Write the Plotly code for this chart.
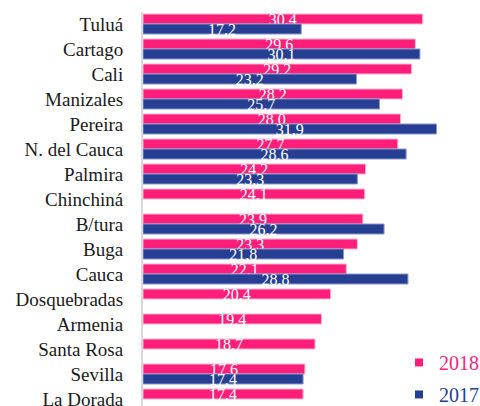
import plotly.graph_objects as go

categories = ["Tuluá", "Cartago", "Cali", "Manizales", "Pereira", "N. del Cauca",
              "Palmira", "Chinchiná", "B/tura", "Buga", "Cauca", "Dosquebradas",
              "Armenia", "Santa Rosa", "Sevilla", "La Dorada"]
values_2018 = [30.4, 29.6, 29.2, 28.2, 28.0, 27.7, 24.2, 24.1, 23.9, 23.3, 22.1,
               20.4, 19.4, 18.7, 17.6, 17.4]
labels_2018 = ["30,4", "29,6", "29,2", "28,2", "28.0", "27.7", "24.2", "24.1", "23.9",
               "23.3", "22,1", "20.4", "19.4", "18.7", "17,6", "17.4"]
values_2017 = [17.2, 30.1, 23.2, 25.7, 31.9, 28.6, 23.3, None, 26.2, 21.8, 28.8,
               None, None, None, 17.4, None]
labels_2017 = ["17.2", "30.1", "23.2", "25.7", "31.9", "28.6", "23.3", "", "26.2",
               "21.8", "28.8", "", "", "", "17,4", ""]

PINK = "#FF1F7A"
BLUE = "#263F92"
FONT = "Liberation Serif"

fig = go.Figure()
fig.add_trace(go.Bar(
    y=categories, x=values_2018, orientation="h", name="2018",
    marker=dict(color=PINK, line=dict(color="#F9B3CF", width=1)),
    text=labels_2018, textposition="inside", insidetextanchor="middle",
    constraintext="none", textangle=0, cliponaxis=False,
    textfont=dict(family=FONT, size=16, color="white"),
    showlegend=False, hoverinfo="skip"))
fig.add_trace(go.Bar(
    y=categories, x=values_2017, orientation="h", name="2017",
    marker=dict(color=BLUE, line=dict(color="#8596CF", width=1)),
    text=labels_2017, textposition="inside", insidetextanchor="middle",
    constraintext="none", textangle=0, cliponaxis=False,
    textfont=dict(family=FONT, size=16, color="white"),
    showlegend=False, hoverinfo="skip"))

# legend entries
fig.add_trace(go.Scatter(x=[None], y=[None], mode="markers", legendgroup="a",
                         name=f"<span style='color:{PINK}'>2018</span>",
                         marker=dict(symbol="square", size=8, color=PINK)))
fig.add_trace(go.Scatter(x=[None], y=[None], mode="markers", legendgroup="b",
                         name=f"<span style='color:{BLUE}'>2017</span>",
                         marker=dict(symbol="square", size=8, color=BLUE)))

fig.update_layout(
    width=480, height=406,
    margin=dict(l=143, r=15, t=12, b=0, autoexpand=False),
    paper_bgcolor="white", plot_bgcolor="white",
    barmode="group", bargap=0.2, bargroupgap=0,
    font=dict(family=FONT, color="#1a1a1a"),
    legend=dict(x=0.795, xanchor="left", y=0.16, yanchor="top",
                font=dict(family=FONT, size=20),
                tracegroupgap=3, traceorder="grouped",
                bgcolor="rgba(0,0,0,0)", itemwidth=30),
    xaxis=dict(range=[0, 35], visible=False, showgrid=False, zeroline=False),
    yaxis=dict(type="category", range=[15.28, -0.48], showgrid=False,
               showline=True, linecolor="#D9D9D9", linewidth=2,
               ticks="outside", ticklen=14, tickcolor="rgba(0,0,0,0)",
               tickfont=dict(family=FONT, size=19, color="#1a1a1a"),
               automargin=False),
)

fig.write_html("out.html", config={"displayModeBar": False},
               post_script="document.body.style.margin='0px';")
